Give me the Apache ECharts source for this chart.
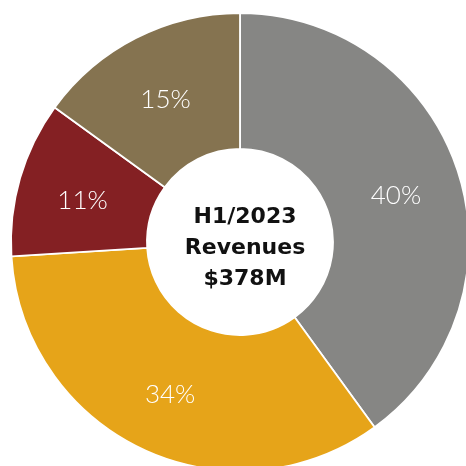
<!DOCTYPE html>
<html>
<head>
<meta charset="utf-8">
<style>
  html, body { margin: 0; padding: 0; background: #ffffff; }
  #chart { width: 466px; height: 466px; }
</style>
<script src="https://cdn.jsdelivr.net/npm/echarts@6/dist/echarts.min.js"></script>
</head>
<body>
<div id="chart"></div>
<script>
// Revenue split by segment, shares in percent, clockwise from 12 o'clock
const segments = ['Segment A', 'Segment B', 'Segment C', 'Segment D'];
const shares = [40, 34, 11, 15];
const colors = ['#868684', '#E6A419', '#842023', '#857350'];
const centerLines = ['H1/2023', 'Revenues', '$378M'];

const chart = echarts.init(document.getElementById('chart'), null, { renderer: 'canvas' });

chart.setOption({
  animation: false,
  backgroundColor: '#ffffff',
  title: {
    text: centerLines.join('\n'),
    left: 240,
    top: 197,
    textAlign: 'center',
    textStyle: {
      fontFamily: 'DejaVu Sans',
      fontWeight: 'bold',
      fontSize: 22,
      lineHeight: 31,
      color: '#111111'
    }
  },
  series: [{
    type: 'pie',
    center: [240, 242],
    radius: [93, 229],
    startAngle: 90,
    clockwise: true,
    avoidLabelOverlap: false,
    itemStyle: { borderColor: '#ffffff', borderWidth: 1.8 },
    label: {
      show: true,
      position: 'inside',
      formatter: '{c}%',
      color: '#ffffff',
      fontFamily: 'Lato',
      fontWeight: 300,
      fontSize: 26,
      offset: [0, 4]
    },
    labelLine: { show: false },
    emphasis: { disabled: true },
    data: segments.map((name, i) => ({
      name: name,
      value: shares[i],
      itemStyle: { color: colors[i] }
    }))
  }]
});
</script>
</body>
</html>
